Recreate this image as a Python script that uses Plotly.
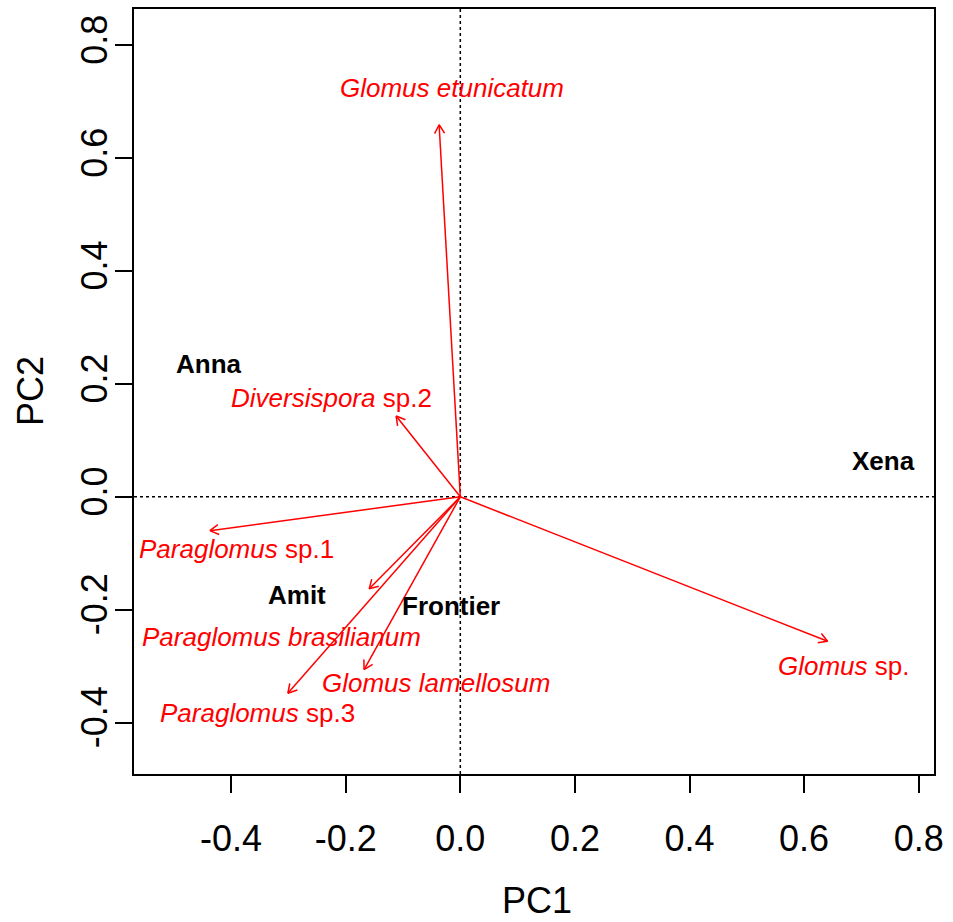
import math
import plotly.graph_objects as go

# ---- data ----
species = ["Glomus etunicatum", "Diversispora sp.2", "Paraglomus sp.1",
           "Paraglomus brasilianum", "Paraglomus sp.3", "Glomus lamellosum", "Glomus sp."]
species_labels = ["<i>Glomus etunicatum</i>", "<i>Diversispora</i> sp.2", "<i>Paraglomus</i> sp.1",
                  "<i>Paraglomus brasilianum</i>", "<i>Paraglomus</i> sp.3", "<i>Glomus lamellosum</i>",
                  "<i>Glomus</i> sp."]
arrow_pc1 = [-0.037, -0.112, -0.437, -0.159, -0.301, -0.168, 0.641]
arrow_pc2 = [0.659, 0.143, -0.060, -0.163, -0.348, -0.306, -0.256]
label_pc1 = [-0.014, -0.224, -0.390, -0.312, -0.354, -0.042, 0.670]
label_pc2 = [0.724, 0.175, -0.093, -0.249, -0.383, -0.330, -0.300]

sites = ["Anna", "Xena", "Amit", "Frontier"]
site_pc1 = [-0.439, 0.739, -0.285, -0.016]
site_pc2 = [0.235, 0.063, -0.174, -0.193]

xticks = [-0.4, -0.2, 0.0, 0.2, 0.4, 0.6, 0.8]
yticks = [-0.4, -0.2, 0.0, 0.2, 0.4, 0.6, 0.8]
xtick_text = ["-0.4", "-0.2", "0.0", "0.2", "0.4", "0.6", "0.8"]
ytick_text = ["-0.4", "-0.2", "0.0", "0.2", "0.4", "0.6", "0.8"]

# ---- layout geometry ----
W, H = 953, 922
ML, MR, MT, MB = 134, 19, 7, 148
XR = [-0.5695, 0.8267]
YR = [-0.491, 0.864]
FONT = "Liberation Sans, Arial, Helvetica, sans-serif"
RED = "#FF0000"

pw = W - ML - MR
ph = H - MT - MB
sx = pw / (XR[1] - XR[0])
sy = ph / (YR[1] - YR[0])

# arrows (shafts + open heads) computed from data
head_len = 10.0
head_ang = math.radians(30)
ax, ay = [], []
for ex, ey in zip(arrow_pc1, arrow_pc2):
    ax += [0, ex, None]
    ay += [0, ey, None]
    dx, dy = ex * sx, ey * sy
    n = math.hypot(dx, dy)
    ux, uy = dx / n, dy / n
    for s in (1, -1):
        c, si = math.cos(s * head_ang), math.sin(s * head_ang)
        rx = ux * c - uy * si
        ry = ux * si + uy * c
        wx = ex - head_len * rx / sx
        wy = ey - head_len * ry / sy
        ax += [ex, wx, None]
        ay += [ey, wy, None]

fig = go.Figure()
fig.add_trace(go.Scatter(x=ax, y=ay, mode="lines",
                         line=dict(color=RED, width=1.5),
                         hoverinfo="skip", showlegend=False))

for lab, x, y in zip(species_labels, label_pc1, label_pc2):
    fig.add_annotation(x=x, y=y, xref="x", yref="y", text=lab, showarrow=False,
                       xanchor="center", yanchor="middle",
                       font=dict(family=FONT, size=26, color=RED))
for lab, x, y in zip(sites, site_pc1, site_pc2):
    fig.add_annotation(x=x, y=y, xref="x", yref="y", text="<b>" + lab + "</b>", showarrow=False,
                       xanchor="center", yanchor="middle",
                       font=dict(family=FONT, size=26, color="black"))

# dotted reference lines
fig.add_shape(type="line", xref="x", yref="paper", x0=0, x1=0, y0=0, y1=1,
              line=dict(color="black", width=1.5, dash="dot"), layer="below")
fig.add_shape(type="line", xref="paper", yref="y", x0=0, x1=1, y0=0, y1=0,
              line=dict(color="black", width=1.5, dash="dot"), layer="below")

# axis titles
fig.add_annotation(text="PC1", xref="paper", yref="paper",
                   x=(537 - ML) / pw, y=-(901 - MT - ph) / ph,
                   showarrow=False, xanchor="center", yanchor="middle",
                   font=dict(family=FONT, size=36, color="black"))
fig.add_annotation(text="PC2", xref="paper", yref="paper",
                   x=-(ML - 30) / pw, y=(H - MB - 390) / ph,
                   showarrow=False, xanchor="center", yanchor="middle", textangle=-90,
                   font=dict(family=FONT, size=36, color="black"))

axis_common = dict(showgrid=False, zeroline=False, showline=True, mirror=True,
                   linecolor="black", linewidth=1.5, ticks="outside", ticklen=17,
                   tickwidth=1.5, tickcolor="black",
                   tickfont=dict(family=FONT, size=36, color="black"))
fig.update_xaxes(range=XR, tickvals=xticks, ticktext=xtick_text,
                 ticklabelstandoff=15, **axis_common)
fig.update_yaxes(range=YR, tickvals=yticks, ticktext=ytick_text, tickangle=-90,
                 ticklabelstandoff=-6, **axis_common)

fig.update_layout(width=W, height=H, autosize=False,
                  margin=dict(l=ML, r=MR, t=MT, b=MB, pad=0),
                  plot_bgcolor="white", paper_bgcolor="white",
                  showlegend=False, font=dict(family=FONT))

fig.write_html("out.html")
